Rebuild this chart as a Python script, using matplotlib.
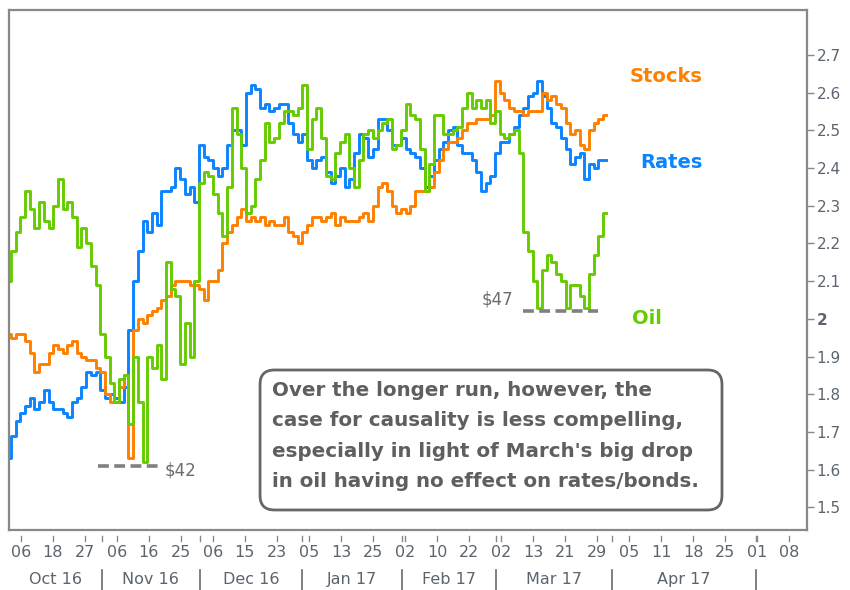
import numpy as np
import matplotlib
matplotlib.use('Agg')
import matplotlib.pyplot as plt
import matplotlib.transforms as mtransforms
from matplotlib.patches import FancyBboxPatch

# values, in right-axis units (one sample per trading day)
stocks = [1.96, 1.95, 1.96, 1.96, 1.94, 1.91, 1.86, 1.88, 1.88, 1.91,
          1.93, 1.92, 1.91, 1.93, 1.94, 1.91, 1.90, 1.89, 1.89, 1.87,
          1.86, 1.80, 1.78, 1.78, 1.82, 1.85, 1.63, 1.97, 2.00, 1.99,
          2.01, 2.02, 2.03, 2.05, 2.06, 2.09, 2.10, 2.10, 2.10, 2.09,
          2.09, 2.08, 2.05, 2.10, 2.10, 2.13, 2.20, 2.23, 2.25, 2.27,
          2.29, 2.26, 2.27, 2.26, 2.27, 2.25, 2.26, 2.25, 2.25, 2.27,
          2.23, 2.22, 2.20, 2.23, 2.25, 2.27, 2.27, 2.26, 2.27, 2.28,
          2.25, 2.27, 2.26, 2.26, 2.26, 2.27, 2.28, 2.26, 2.30, 2.35,
          2.36, 2.34, 2.30, 2.28, 2.29, 2.28, 2.30, 2.34, 2.34, 2.34,
          2.35, 2.39, 2.42, 2.45, 2.47, 2.47, 2.48, 2.50, 2.52, 2.52,
          2.53, 2.53, 2.53, 2.54, 2.63, 2.60, 2.58, 2.56, 2.55, 2.55,
          2.54, 2.55, 2.55, 2.55, 2.60, 2.58, 2.59, 2.57, 2.56, 2.52,
          2.49, 2.50, 2.46, 2.45, 2.50, 2.52, 2.53, 2.54]

rates = [1.63, 1.69, 1.73, 1.75, 1.77, 1.79, 1.76, 1.78, 1.81, 1.78,
         1.76, 1.76, 1.75, 1.74, 1.78, 1.79, 1.82, 1.86, 1.85, 1.86,
         1.81, 1.79, 1.80, 1.79, 1.78, 1.82, 1.97, 2.10, 2.18, 2.26,
         2.23, 2.28, 2.25, 2.34, 2.34, 2.35, 2.40, 2.37, 2.33, 2.35,
         2.31, 2.46, 2.43, 2.42, 2.40, 2.38, 2.40, 2.46, 2.50, 2.50,
         2.46, 2.60, 2.62, 2.61, 2.56, 2.57, 2.55, 2.56, 2.57, 2.57,
         2.52, 2.49, 2.47, 2.49, 2.42, 2.40, 2.42, 2.43, 2.39, 2.36,
         2.38, 2.40, 2.35, 2.37, 2.44, 2.49, 2.48, 2.43, 2.45, 2.53,
         2.53, 2.50, 2.46, 2.46, 2.48, 2.45, 2.44, 2.43, 2.40, 2.35,
         2.38, 2.42, 2.45, 2.47, 2.50, 2.51, 2.46, 2.44, 2.44, 2.42,
         2.39, 2.34, 2.36, 2.38, 2.44, 2.47, 2.47, 2.49, 2.51, 2.54,
         2.56, 2.59, 2.60, 2.63, 2.59, 2.56, 2.52, 2.51, 2.48, 2.45,
         2.41, 2.43, 2.44, 2.37, 2.41, 2.40, 2.42, 2.42]

oil = [2.10, 2.18, 2.23, 2.27, 2.34, 2.29, 2.24, 2.31, 2.26, 2.24,
       2.30, 2.37, 2.29, 2.31, 2.27, 2.19, 2.24, 2.20, 2.14, 2.09,
       1.96, 1.90, 1.83, 1.78, 1.84, 1.85, 1.72, 1.90, 1.78, 1.62,
       1.90, 1.87, 1.93, 1.84, 2.15, 2.08, 2.06, 1.88, 1.99, 1.90,
       2.10, 2.36, 2.39, 2.38, 2.33, 2.28, 2.22, 2.35, 2.56, 2.49,
       2.40, 2.28, 2.30, 2.37, 2.42, 2.52, 2.47, 2.48, 2.52, 2.55,
       2.55, 2.54, 2.56, 2.62, 2.45, 2.53, 2.56, 2.48, 2.38, 2.37,
       2.44, 2.47, 2.49, 2.40, 2.35, 2.42, 2.49, 2.50, 2.48, 2.50,
       2.52, 2.53, 2.45, 2.46, 2.50, 2.57, 2.54, 2.53, 2.45, 2.34,
       2.41, 2.54, 2.54, 2.49, 2.49, 2.50, 2.51, 2.56, 2.60, 2.56,
       2.58, 2.56, 2.58, 2.52, 2.55, 2.49, 2.48, 2.49, 2.50, 2.44,
       2.23, 2.18, 2.10, 2.03, 2.13, 2.17, 2.15, 2.12, 2.10, 2.03,
       2.09, 2.09, 2.06, 2.03, 2.12, 2.17, 2.22, 2.28]

day_labels = ['06', '18', '27', '06', '16', '25', '06', '15', '23', '05', '13', '25',
              '02', '10', '22', '02', '13', '21', '29', '05', '11', '18', '25', '01', '08']
month_labels = ['Oct 16', 'Nov 16', 'Dec 16', 'Jan 17', 'Feb 17', 'Mar 17', 'Apr 17']
month_starts = [19.81, 40.72, 62.36, 83.64, 103.70, 128.3, 159.0]

oil_low_nov = 1.61   # $42
oil_low_mar = 2.02   # $47

grey = '#6b6b6b'
label_grey = '#5c6470'

fig = plt.figure(figsize=(8.5, 5.9), dpi=100)
ax = fig.add_axes([9 / 850, 60 / 590, 797.7 / 850, 520 / 590])

x = np.arange(len(stocks))
ax.plot(x, rates, color='#0a84ff', lw=2.1, drawstyle='steps-mid')
ax.plot(x, stocks, color='#ff8000', lw=2.1, drawstyle='steps-mid')
ax.plot(x, oil, color='#66cc00', lw=2.1, drawstyle='steps-mid')

ax.set_xlim(0.085, 169.8)
ax.set_ylim(1.44, 2.819)

for s in ax.spines.values():
    s.set_color('#888888')
    s.set_linewidth(1.6)

# right y axis
yt = np.round(np.arange(1.5, 2.71, 0.1), 1)
ax.yaxis.tick_right()
ax.set_yticks(yt)
ax.set_yticklabels(['2' if v == 2.0 else f'{v:.1f}' for v in yt])
for lab in ax.get_yticklabels():
    if lab.get_text() == '2':
        lab.set_fontweight('bold')
ax.tick_params(axis='y', direction='out', length=5, width=1, color='#888888',
               labelsize=11, labelcolor=label_grey, pad=2)

# x axis drawn by hand: detached ticks, day labels, month row with separators
ax.set_xticks([])
trans = mtransforms.blended_transform_factory(ax.transData, ax.transAxes)
day_pos = 2.574 + 6.813 * np.arange(len(day_labels))
for p, lab in zip(day_pos, day_labels):
    ax.plot([p, p], [-0.0115, -0.021], color='#888888', lw=1, transform=trans, clip_on=False)
    ax.text(p, -0.044, lab, transform=trans, ha='center', va='center',
            fontsize=11.5, color=label_grey)
for p in month_starts:
    ax.plot([p, p], [-0.0115, -0.021], color='#888888', lw=1, transform=trans, clip_on=False)
    ax.plot([p, p], [-0.077, -0.115], color=grey, lw=1.2, transform=trans, clip_on=False)
edges = [0.085] + month_starts
for i, lab in enumerate(month_labels):
    ax.text((edges[i] + edges[i + 1]) / 2, -0.096, lab, transform=trans,
            ha='center', va='center', fontsize=11.5, color=label_grey)

# series names
ax.text(139.9, 2.642, 'Stocks', color='#ff8000', fontsize=14, fontweight='bold', ha='center', va='center')
ax.text(141.0, 2.414, 'Rates', color='#0a84ff', fontsize=14, fontweight='bold', ha='center', va='center')
ax.text(135.8, 2.002, 'Oil', color='#66cc00', fontsize=14, fontweight='bold', ha='center', va='center')

# oil lows
ax.plot([19.0, 32.2], [oil_low_nov, oil_low_nov], color='#808080', lw=2.6, ls=(0, (3, 1.5)))
ax.text(33.3, 1.599, '$42', color=grey, fontsize=12, ha='left', va='center')
ax.plot([109.4, 125.4], [oil_low_mar, oil_low_mar], color='#808080', lw=2.6, ls=(0, (3, 1.5)))
ax.text(107.3, 2.05, '$47', color=grey, fontsize=12, ha='right', va='center')

# comment box
box = FancyBboxPatch((0.3147, 0.0385), 0.5791, 0.2692, transform=ax.transAxes,
                     boxstyle='round,pad=0,rounding_size=0.018', mutation_aspect=797.7 / 520,
                     facecolor='white', edgecolor='#666666', lw=2)
ax.add_patch(box)
ax.text(0.3297, 0.287, "Over the longer run, however, the\n"
                       "case for causality is less compelling,\n"
                       "especially in light of March's big drop\n"
                       "in oil having no effect on rates/bonds.",
        transform=ax.transAxes, ha='left', va='top', fontsize=14.3, fontweight='bold',
        color='#5f5f5f', linespacing=1.76)

fig.savefig('out.png', dpi=100)
